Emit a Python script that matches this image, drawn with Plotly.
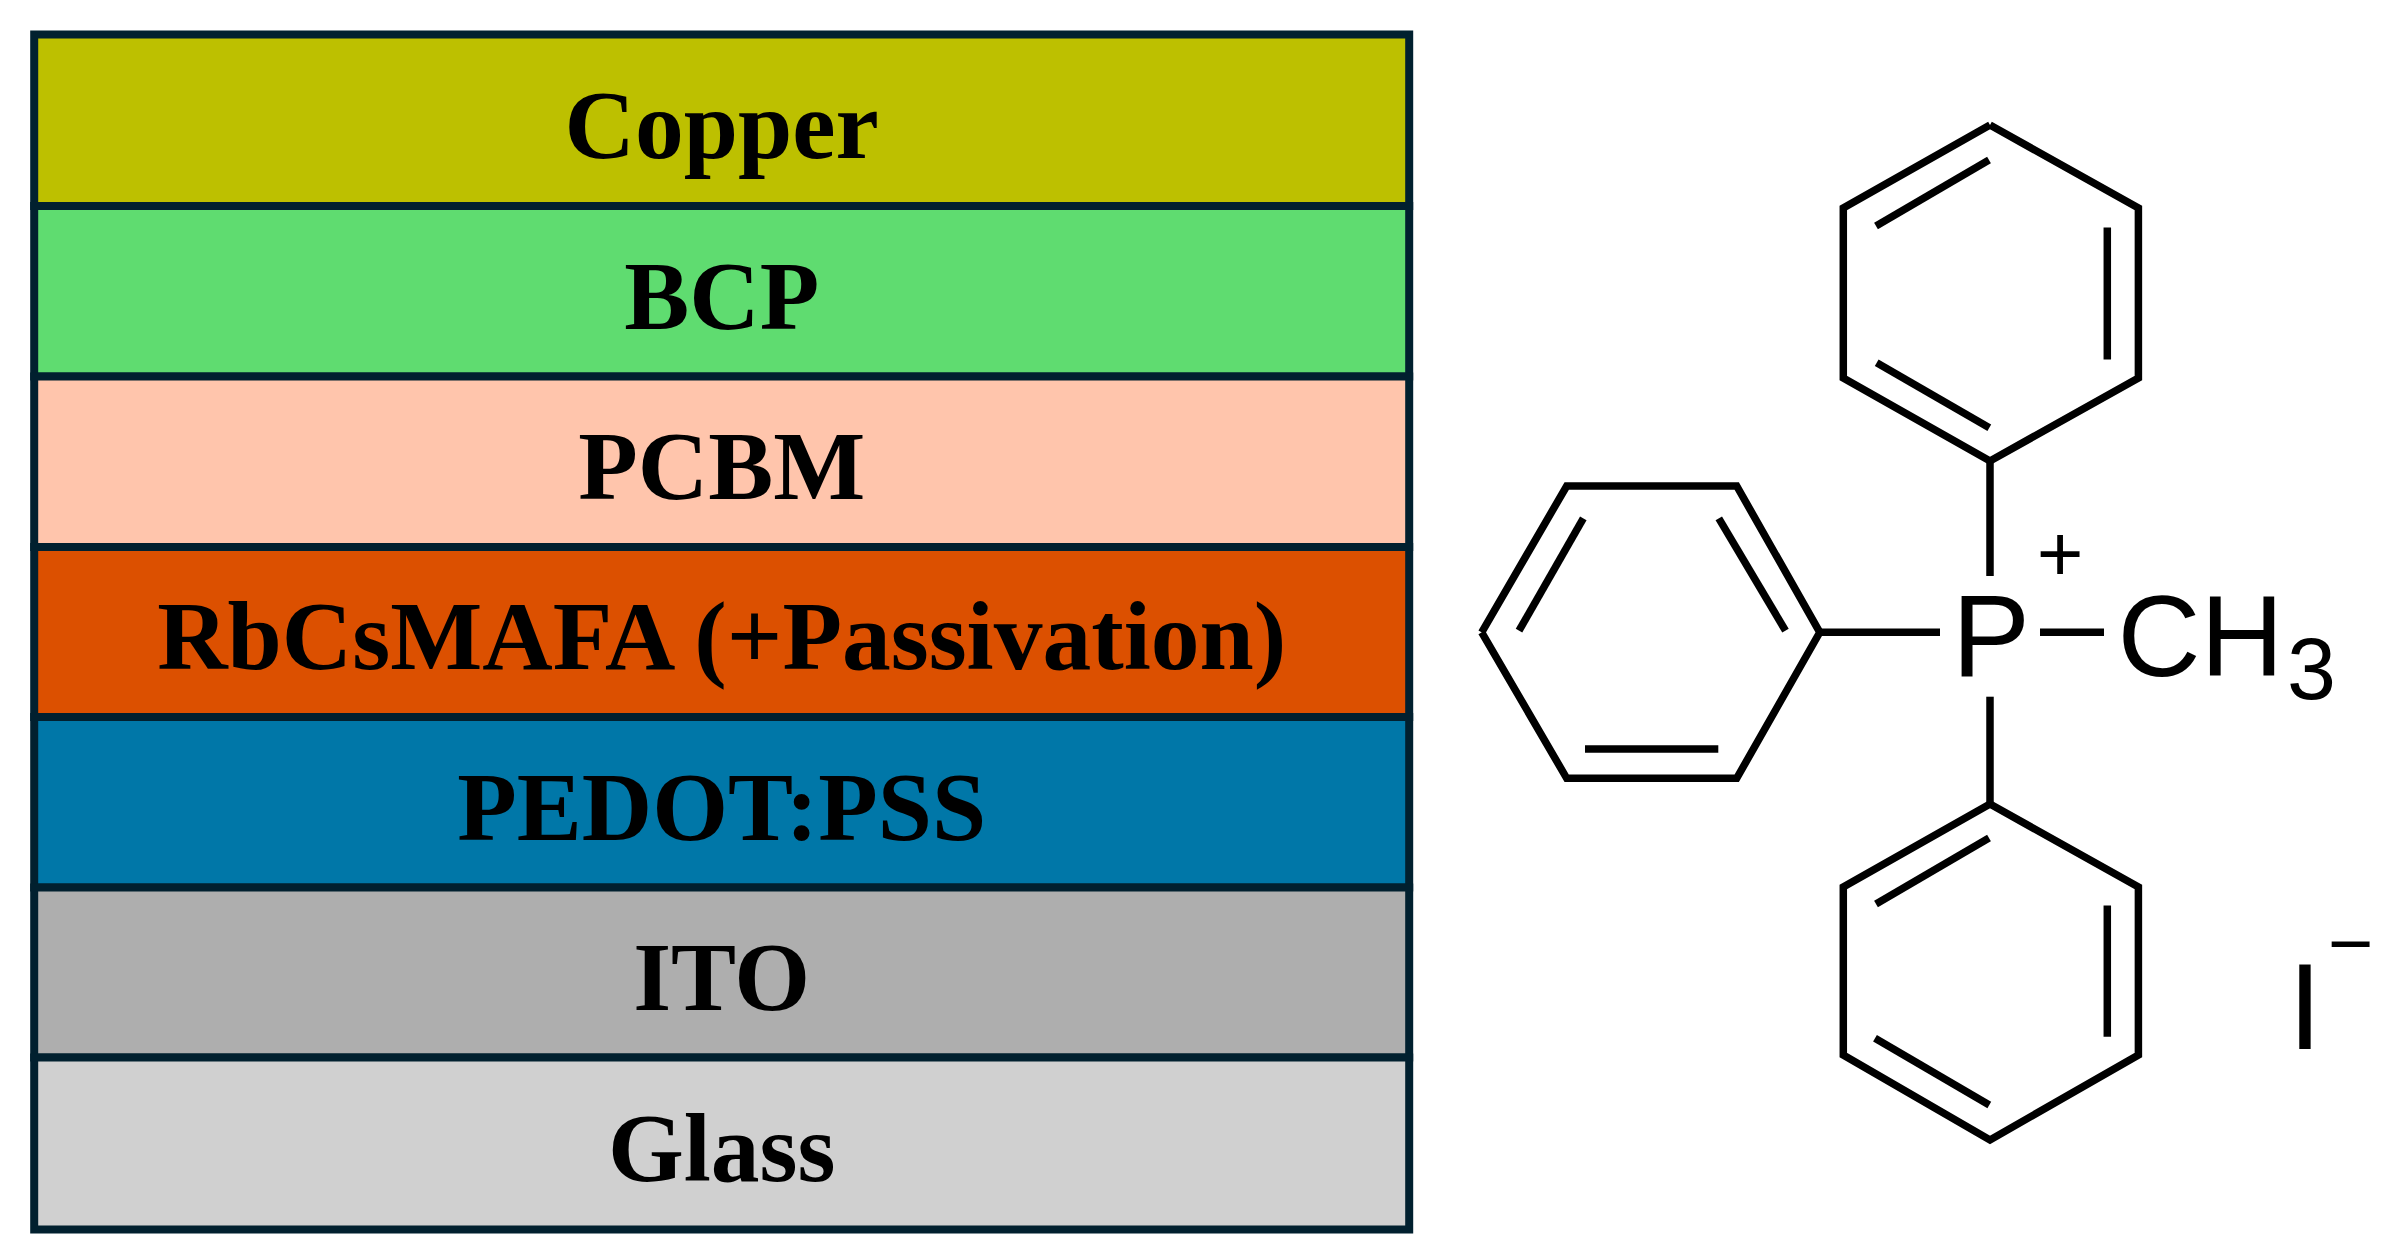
import plotly.graph_objects as go

# device stack, top to bottom
capas = ["Copper", "BCP", "PCBM", "RbCsMAFA (+Passivation)", "PEDOT:PSS", "ITO", "Glass"]
colores = ["#BDC000", "#5FDC70", "#FFC5AC", "#DC5000", "#0077A8", "#AEAEAE", "#D0D0D0"]
grosor = [171.5, 170.5, 170.5, 170, 170.5, 170, 172]
inicio_pila = 34.5
centro_pila = 721.7
ancho_pila = 1375

# molecule outline
anillo_sup_x = [1990, 2138.4, 2138.4, 1990, 1843.3, 1843.3, 1990, None,
                1989, 1876, None, 2107.3, 2107.3, None, 1876.7, 1989.3]
anillo_sup_y = [125, 208, 378, 461, 378, 208, 125, None,
                160, 226, None, 227.5, 359.5, None, 362.7, 427.7]
anillo_izq_x = [1481.7, 1566.7, 1736.7, 1819.8, 1736.7, 1566.7, 1481.7, None,
                1519, 1583.3, None, 1718.8, 1785.5, None, 1585, 1718.3]
anillo_izq_y = [632.3, 486, 486, 632.3, 778.3, 778.3, 632.3, None,
                630.7, 518.3, None, 518.3, 630.7, None, 749, 749]
anillo_inf_x = [1990, 2138.4, 2138.4, 1990, 1843.3, 1843.3, 1990, None,
                1989, 1876, None, 2107.3, 2107.3, None, 1875, 1989.3]
anillo_inf_y = [804, 887, 1055, 1140, 1055, 887, 804, None,
                838, 904, None, 905.5, 1036.7, None, 1038.3, 1105]
enlaces_x = [1990, 1990, None, 1819.8, 1940, None, 2040, 2104, None, 1990, 1990]
enlaces_y = [461, 576, None, 632.3, 632.3, None, 632.3, 632.3, None, 696.7, 804]

atomos = ["P", "CH", "3", "+", "I", "\u2212"]
atomos_x = [1991, 2200.5, 2311.5, 2060, 2305, 2350.5]
atomos_y = [647, 647, 677, 561, 1018, 950]
atomos_size = [117, 115, 88, 80, 122, 78]

bases = [inicio_pila + sum(grosor[:i]) for i in range(len(grosor))]
medios = [b + g / 2 + 13 for b, g in zip(bases, grosor)]

fig = go.Figure()

fig.add_trace(go.Bar(
    x=[centro_pila] * len(capas),
    y=grosor,
    base=bases,
    width=ancho_pila,
    marker=dict(color=colores, line=dict(color="#01202F", width=8)),
    hoverinfo="skip",
))

fig.add_trace(go.Scatter(
    x=[centro_pila] * len(capas), y=medios, text=capas, mode="text",
    textposition="middle center", hoverinfo="skip",
    textfont=dict(family="Liberation Serif", size=97.5, color="black", weight="bold"),
))

for xs, ys in [(anillo_sup_x, anillo_sup_y), (anillo_izq_x, anillo_izq_y),
               (anillo_inf_x, anillo_inf_y), (enlaces_x, enlaces_y)]:
    fig.add_trace(go.Scatter(x=xs, y=ys, mode="lines", hoverinfo="skip",
                             line=dict(color="black", width=7.5)))

fig.add_trace(go.Scatter(
    x=atomos_x, y=atomos_y, text=atomos, mode="text",
    textposition="middle center", hoverinfo="skip",
    textfont=dict(family="Liberation Sans", size=atomos_size, color="black"),
))

fig.update_layout(
    width=2393, height=1251,
    margin=dict(l=0, r=0, t=0, b=0),
    paper_bgcolor="white", plot_bgcolor="white",
    showlegend=False, barmode="overlay",
    xaxis=dict(range=[0, 2393], visible=False),
    yaxis=dict(range=[1251, 0], visible=False),
)

fig.write_html("out.html", config={"displayModeBar": False},
               post_script="document.body.style.margin='0';")
